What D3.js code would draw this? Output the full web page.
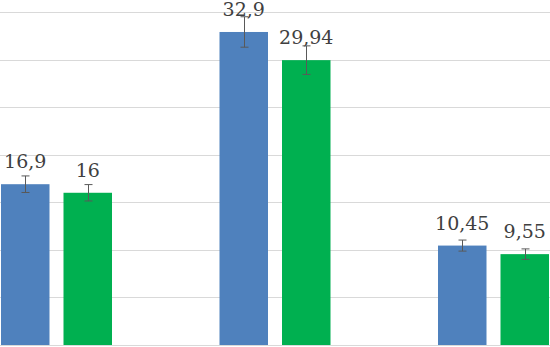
<!DOCTYPE html>
<html>
<head>
<meta charset="utf-8">
<script src="https://cdn.jsdelivr.net/npm/d3@7"></script>
<style>
  html, body { margin: 0; padding: 0; background: #fff; }
  svg { display: block; }
  .lbl { font-family: "DejaVu Serif", serif; }
</style>
</head>
<body>
<svg id="chart"></svg>
<script>
// Data
const categories = ["Grupa 1", "Grupa 2", "Grupa 3"];
const seriesNames = ["Seria 1", "Seria 2"];
const seriesValues = [
  [16.9, 32.9, 10.45],
  [16, 29.94, 9.55]
];
const errorValues = [
  [0.87, 1.6, 0.58],
  [0.86, 1.5, 0.55]
];
const yTicks = [5, 10, 15, 20, 25, 30, 35];
const colors = ["#4f81bd", "#00b050"];

const width = 550;
const height = 347;
const svg = d3.select("#chart").attr("width", width).attr("height", height);

// plot area is wider than the window (chart is cropped on the left and right)
const x0 = d3.scaleBand().domain(categories).range([-52.75, 602.75]).paddingInner(0).paddingOuter(0);
const x1 = d3.scaleBand().domain(seriesNames).range([53.75, 164.75]).paddingInner(0.224).paddingOuter(0);
const y = d3.scaleLinear().domain([0, 35]).range([345, 12]);

const fmt = v => String(v).replace(".", ",");

// Gridlines
svg.append("g")
  .selectAll("line")
  .data(yTicks)
  .join("line")
  .attr("x1", 0)
  .attr("x2", width)
  .attr("y1", d => Math.round(y(d)) + 0.5)
  .attr("y2", d => Math.round(y(d)) + 0.5)
  .attr("stroke", "#d9d9d9")
  .attr("stroke-width", 1);

// baseline
svg.append("line")
  .attr("x1", 0).attr("x2", width)
  .attr("y1", y(0) + 0.5).attr("y2", y(0) + 0.5)
  .attr("stroke", "#d9d9d9");

const rows = [];
seriesNames.forEach((s, si) => {
  categories.forEach((c, ci) => {
    rows.push({ cat: c, series: s, si, value: seriesValues[si][ci], err: errorValues[si][ci] });
  });
});

const bx = d => x0(d.cat) + x1(d.series);

// Bars
svg.append("g")
  .selectAll("rect")
  .data(rows)
  .join("rect")
  .attr("x", bx)
  .attr("y", d => y(d.value))
  .attr("width", x1.bandwidth())
  .attr("height", d => y(0) - y(d.value))
  .attr("fill", d => colors[d.si]);

// Labels
svg.append("g")
  .selectAll("text")
  .data(rows)
  .join("text")
  .attr("class", "lbl")
  .attr("x", d => bx(d) + x1.bandwidth() / 2)
  .attr("y", d => y(d.value) - 16)
  .attr("text-anchor", "middle")
  .style("font-size", "19px")
  .attr("fill", "#404040")
  .text(d => fmt(d.value));

// Error bars
const eb = svg.append("g").attr("stroke", "#595959").attr("stroke-width", 1);
rows.forEach(d => {
  const cx = Math.round(bx(d) + x1.bandwidth() / 2) + 0.5;
  const top = y(d.value + d.err);
  const bot = y(d.value - d.err);
  eb.append("line").attr("x1", cx).attr("x2", cx).attr("y1", top).attr("y2", bot);
  eb.append("line").attr("x1", cx - 4).attr("x2", cx + 4).attr("y1", top).attr("y2", top);
  eb.append("line").attr("x1", cx - 4).attr("x2", cx + 4).attr("y1", bot).attr("y2", bot);
});
</script>
</body>
</html>
